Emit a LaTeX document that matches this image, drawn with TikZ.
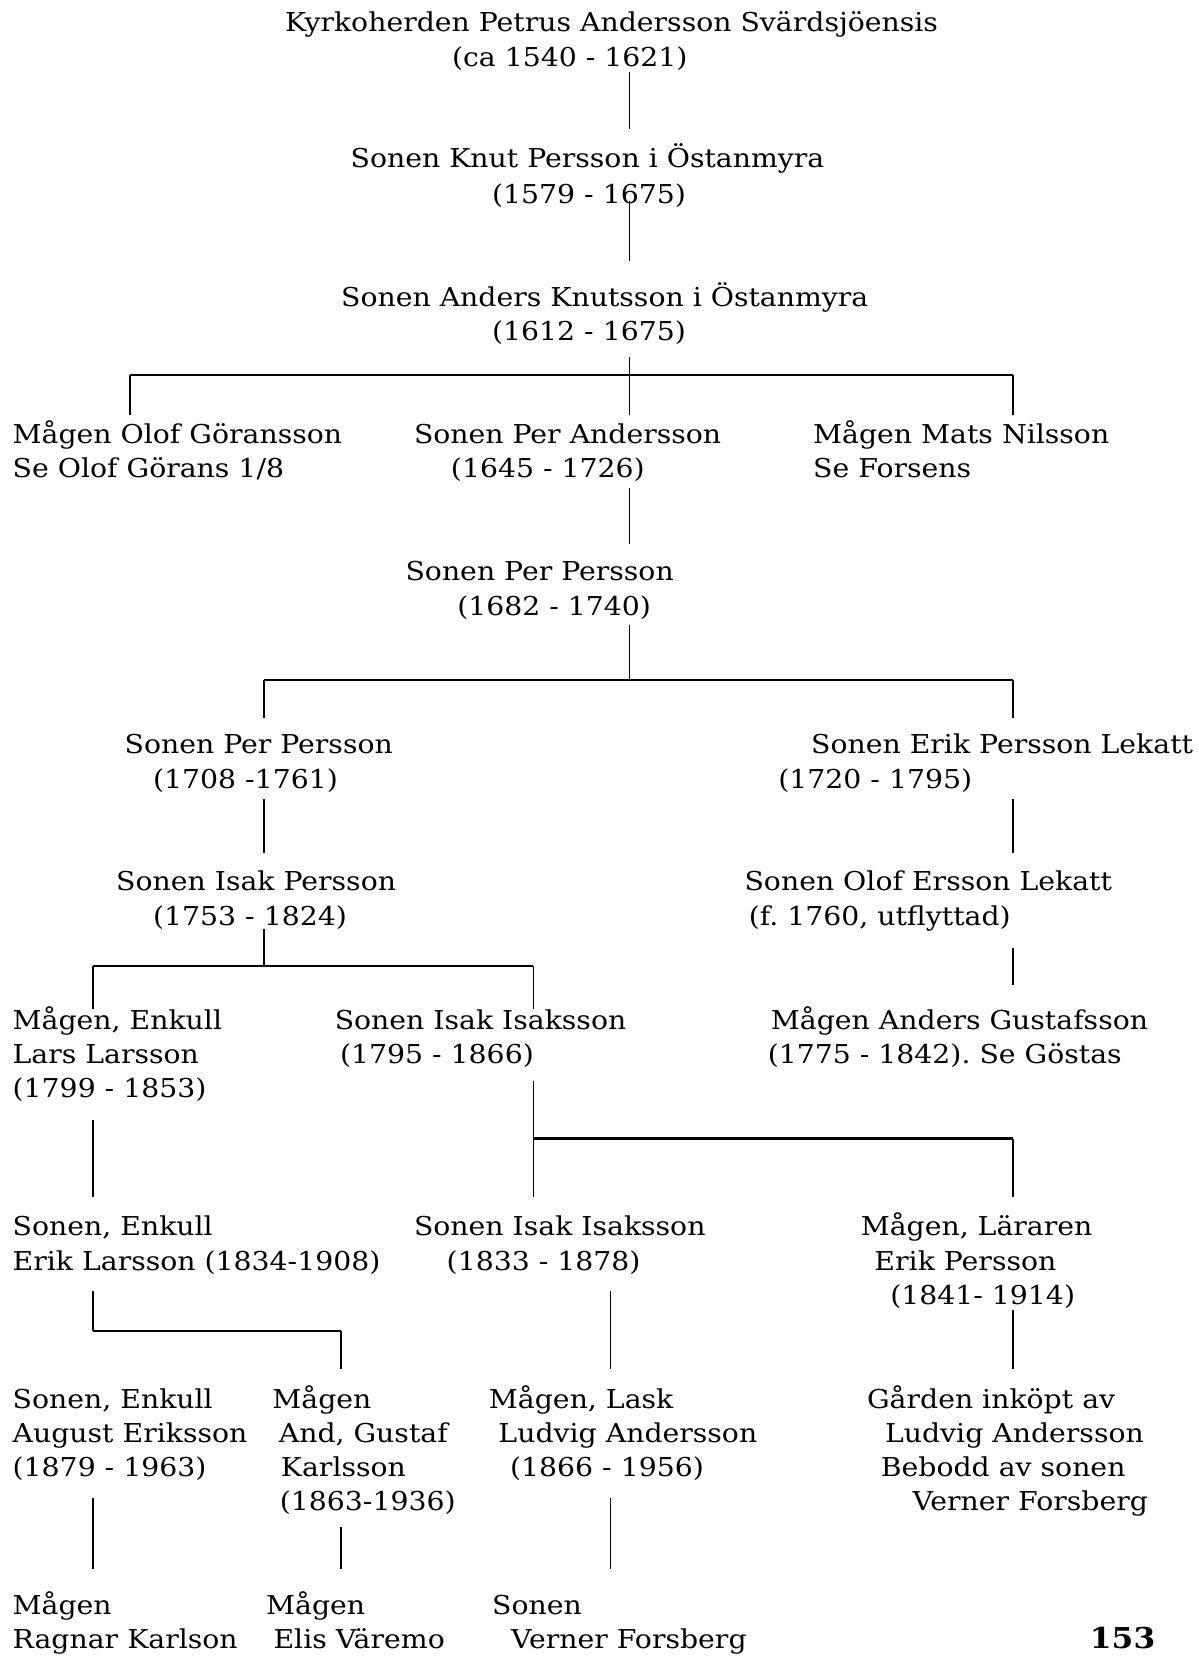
\documentclass[tikz,border=0pt]{standalone}
\usepackage{fontspec}
\setmainfont{DejaVu Serif}[FakeStretch=1.09]
\frenchspacing
\begin{document}
\begin{tikzpicture}[x=0.5pt,y=-0.5pt,
  txt/.style={anchor=base west,inner sep=0pt,outer sep=0pt,font=\fontsize{12.3}{15}\selectfont},
  vline/.style={line width=0.65pt},
  hline/.style={line width=1.0pt}]
\useasboundingbox (0,0) rectangle (1135,1568);
\newcommand{\tl}[4]{\node[txt] (#1) at (#2,#3) {#4};}
% texts
\tl{t1}{270}{30}{Kyrkoherden Petrus Andersson Svärdsjöensis}
\tl{t2}{428}{63}{(ca 1540 - 1621)}
\tl{k1}{332}{159}{Sonen Knut Persson i Östanmyra}
\tl{k2}{466}{193}{(1579 - 1675)}
\tl{a1}{323}{290}{Sonen Anders Knutsson i Östanmyra}
\tl{a2}{466}{322}{(1612 - 1675)}
\tl{o1}{12}{420}{Mågen Olof Göransson}
\tl{o2}{12}{452}{Se Olof Görans 1/8}
\tl{p1}{392}{420}{Sonen Per Andersson}
\tl{p2}{427}{452}{(1645 - 1726)}
\tl{m1}{770}{420}{Mågen Mats Nilsson}
\tl{m2}{770}{452}{Se Forsens}
\tl{q1}{384}{550}{Sonen Per Persson}
\tl{q2}{433}{583}{(1682 - 1740)}
\tl{r1}{118}{713}{Sonen Per Persson}
\tl{r2}{145}{747}{(1708 -1761)}
\tl{e1}{768}{713}{Sonen Erik Persson Lekatt}
\tl{e2}{737}{747}{(1720 - 1795)}
\tl{i1}{110}{843}{Sonen Isak Persson}
\tl{i2}{145}{876}{(1753 - 1824)}
\tl{l1}{705}{843}{Sonen Olof Ersson Lekatt}
\tl{l2}{709}{876}{(f. 1760, utflyttad)}
\tl{el1}{12}{975}{Mågen, Enkull}
\tl{el2}{12}{1007}{Lars Larsson}
\tl{el3}{12}{1039}{(1799 - 1853)}
\tl{ii1}{317}{975}{Sonen Isak Isaksson}
\tl{ii2}{322}{1007}{(1795 - 1866)}
\tl{ag1}{730}{975}{Mågen Anders Gustafsson}
\tl{ag2}{727}{1007}{(1775 - 1842). Se Göstas}
\tl{ek1}{12}{1170}{Sonen, Enkull}
\tl{ek2}{12}{1203}{Erik Larsson (1834-1908)}
\tl{is1}{392}{1170}{Sonen Isak Isaksson}
\tl{is2}{423}{1203}{(1833 - 1878)}
\tl{le1}{815}{1170}{Mågen, Läraren}
\tl{le2}{828}{1203}{Erik Persson}
\tl{le3}{843}{1235}{(1841- 1914)}
\tl{ae1}{12}{1334}{Sonen, Enkull}
\tl{ae2}{12}{1366}{August Eriksson}
\tl{ae3}{12}{1398}{(1879 - 1963)}
\tl{gk1}{258}{1334}{Mågen}
\tl{gk2}{264}{1366}{And, Gustaf}
\tl{gk3}{266}{1398}{Karlsson}
\tl{gk4}{265}{1430}{(1863-1936)}
\tl{la1}{463}{1334}{Mågen, Lask}
\tl{la2}{472}{1366}{Ludvig Andersson}
\tl{la3}{483}{1398}{(1866 - 1956)}
\tl{gi1}{821}{1334}{Gården inköpt av}
\tl{gi2}{838}{1366}{Ludvig Andersson}
\tl{gi3}{834}{1398}{Bebodd av sonen}
\tl{gi4}{864}{1430}{Verner Forsberg}
\tl{rk1}{12}{1529}{Mågen}
\tl{rk2}{12}{1561}{Ragnar Karlson}
\tl{ev1}{252}{1529}{Mågen}
\tl{ev2}{259}{1561}{Elis Väremo}
\tl{vf1}{466}{1529}{Sonen}
\tl{vf2}{484}{1561}{Verner Forsberg}
\node[txt,font=\fontsize{13.6}{16}\selectfont\bfseries] (pg) at (1032,1561) {153};
% connector points
\coordinate (c1a) at (596,68);   \coordinate (c1b) at (596,122);
\coordinate (c2a) at (596,190);  \coordinate (c2b) at (596,247);
\coordinate (c3a) at (596,338);  \coordinate (c3b) at (596,393);
\coordinate (h3l) at (123,355);  \coordinate (h3r) at (959,355);
\coordinate (d3l) at (123,393);  \coordinate (d3r) at (959,393);
\coordinate (c4a) at (596,462);  \coordinate (c4b) at (596,515);
\coordinate (c5a) at (596,592);  \coordinate (c5b) at (596,644);
\coordinate (h5l) at (250,644);  \coordinate (h5r) at (959,644);
\coordinate (d5l) at (250,680);  \coordinate (d5r) at (959,680);
\coordinate (c6a) at (250,757);  \coordinate (c6b) at (250,808);
\coordinate (c7a) at (959,757);  \coordinate (c7b) at (959,808);
\coordinate (c8a) at (250,880);  \coordinate (c8b) at (250,915);
\coordinate (h8l) at (88,915);   \coordinate (h8r) at (505,915);
\coordinate (d8l) at (88,955);   \coordinate (d8r) at (505,955);
\coordinate (c9a) at (959,898);  \coordinate (c9b) at (959,933);
\coordinate (c10a) at (88,1060); \coordinate (c10b) at (88,1133);
\coordinate (c11a) at (505,1024);\coordinate (c11b) at (505,1133);
\coordinate (h11l) at (505,1078);\coordinate (h11r) at (959,1078);
\coordinate (d11r) at (959,1133);
\coordinate (c12a) at (88,1222); \coordinate (c12b) at (88,1260);
\coordinate (h12r) at (323,1260);\coordinate (d12r) at (323,1296);
\coordinate (c13a) at (578,1222);\coordinate (c13b) at (578,1296);
\coordinate (c14a) at (959,1240);\coordinate (c14b) at (959,1296);
\coordinate (c15a) at (88,1418); \coordinate (c15b) at (88,1486);
\coordinate (c16a) at (323,1446);\coordinate (c16b) at (323,1486);
\coordinate (c17a) at (578,1418);\coordinate (c17b) at (578,1486);
% connectors
\draw[vline] (c1a) -- (c1b);
\draw[vline] (c2a) -- (c2b);
\draw[vline] (c3a) -- (c3b);
\draw[hline] (h3l) -- (h3r);
\draw[vline] (h3l) -- (d3l);
\draw[vline] (h3r) -- (d3r);
\draw[vline] (c4a) -- (c4b);
\draw[vline] (c5a) -- (c5b);
\draw[hline] (h5l) -- (h5r);
\draw[vline] (h5l) -- (d5l);
\draw[vline] (h5r) -- (d5r);
\draw[vline] (c6a) -- (c6b);
\draw[vline] (c7a) -- (c7b);
\draw[vline] (c8a) -- (c8b);
\draw[hline] (h8l) -- (h8r);
\draw[vline] (h8l) -- (d8l);
\draw[vline] (h8r) -- (d8r);
\draw[vline] (c9a) -- (c9b);
\draw[vline] (c10a) -- (c10b);
\draw[vline] (c11a) -- (c11b);
\draw[hline] (h11l) -- (h11r);
\draw[vline] (h11r) -- (d11r);
\draw[vline] (c12a) -- (c12b);
\draw[hline] (c12b) -- (h12r);
\draw[vline] (h12r) -- (d12r);
\draw[vline] (c13a) -- (c13b);
\draw[vline] (c14a) -- (c14b);
\draw[vline] (c15a) -- (c15b);
\draw[vline] (c16a) -- (c16b);
\draw[vline] (c17a) -- (c17b);
\end{tikzpicture}
\end{document}
